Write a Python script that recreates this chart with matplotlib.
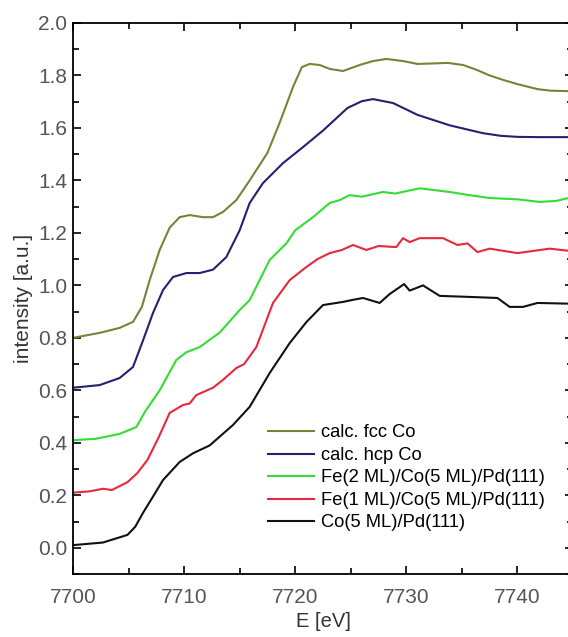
import numpy as np
import matplotlib
matplotlib.use('Agg')
import matplotlib.pyplot as plt
from matplotlib.ticker import MultipleLocator, FormatStrFormatter

plt.rcParams['font.family'] = ['Liberation Sans', 'DejaVu Sans']

# calc. fcc Co
e_fcc = [7700, 7702.4, 7704.2, 7705.4, 7706.2, 7706.9, 7707.8, 7708.7, 7709.6, 7710.5, 7711.7,
         7712.6, 7713.5, 7714.7, 7715.9, 7717.5, 7718.6, 7719.8, 7720.6, 7721.3, 7722.2,
         7723.1, 7724.3, 7725.8, 7727, 7728.2, 7729.7, 7731, 7732.5, 7733.7, 7735.1,
         7736.3, 7737.5, 7738.8, 7740, 7741.8, 7743, 7745]
i_fcc = [0.80, 0.819, 0.838, 0.861, 0.918, 1.02, 1.135, 1.22, 1.26, 1.268, 1.26,
         1.26, 1.28, 1.325, 1.40, 1.505, 1.62, 1.756, 1.832, 1.844, 1.84,
         1.825, 1.817, 1.84, 1.855, 1.863, 1.855, 1.844, 1.846, 1.848, 1.84,
         1.822, 1.80, 1.782, 1.767, 1.748, 1.742, 1.74]

# calc. hcp Co
e_hcp = [7700, 7702.4, 7704.2, 7705.4, 7706.3, 7707.2, 7708.1, 7709, 7710.2, 7711.4, 7712.6,
         7713.8, 7715, 7715.9, 7717.1, 7718.9, 7720.7, 7722.5, 7724.7, 7726, 7727, 7728.8,
         7731, 7733.9, 7736.9, 7738.5, 7740, 7742, 7745]
i_hcp = [0.61, 0.62, 0.647, 0.689, 0.79, 0.895, 0.982, 1.032, 1.047, 1.047, 1.06,
         1.108, 1.21, 1.314, 1.39, 1.466, 1.527, 1.59, 1.676, 1.702, 1.71, 1.695,
         1.65, 1.61, 1.58, 1.57, 1.566, 1.565, 1.565]

# Fe(2 ML)/Co(5 ML)/Pd(111)
e_fe2 = [7700, 7702, 7704.2, 7705.7, 7706.5, 7707.8, 7709.3, 7710.2, 7711.4, 7713.2, 7715,
         7715.9, 7717.7, 7719.2, 7720, 7721.6, 7723.1, 7724, 7724.9, 7726, 7727.9, 7729,
         7731.2, 7733.9, 7735.5, 7737.5, 7740, 7742, 7743.5, 7745]
i_fe2 = [0.41, 0.415, 0.434, 0.46, 0.52, 0.60, 0.716, 0.745, 0.765, 0.82, 0.906,
         0.944, 1.097, 1.16, 1.21, 1.26, 1.314, 1.325, 1.344, 1.338, 1.356, 1.35,
         1.37, 1.356, 1.345, 1.333, 1.328, 1.318, 1.322, 1.337]

# Fe(1 ML)/Co(5 ML)/Pd(111)
e_fe1 = [7700, 7701.5, 7702.7, 7703.5, 7704.9, 7705.8, 7706.7, 7707.7, 7708.7, 7709.9, 7710.5,
         7711.1, 7712.6, 7713.5, 7714.7, 7715.4, 7716.5, 7718, 7719.5, 7721, 7722, 7723.1,
         7724.2, 7725.2, 7726.4, 7727.5, 7729.1, 7729.7, 7730.3, 7731.2, 7733.3, 7734.6,
         7735.5, 7736.4, 7737.5, 7740, 7742.9, 7745]
i_fe1 = [0.21, 0.215, 0.225, 0.22, 0.25, 0.285, 0.335, 0.42, 0.514, 0.544, 0.55,
         0.582, 0.61, 0.64, 0.685, 0.70, 0.765, 0.933, 1.02, 1.07, 1.10, 1.123,
         1.135, 1.154, 1.135, 1.15, 1.146, 1.18, 1.165, 1.18, 1.18, 1.154,
         1.16, 1.127, 1.14, 1.123, 1.14, 1.13]

# Co(5 ML)/Pd(111)
e_co = [7700, 7702.7, 7704.9, 7705.6, 7706.3, 7707.2, 7708.1, 7709.6, 7710.8, 7712.3, 7714.4,
        7715.9, 7717.7, 7719.5, 7721, 7722.5, 7724.3, 7725.2, 7726.1, 7727.6, 7728.5,
        7729.8, 7730.3, 7731.5, 7733, 7735.7, 7738.2, 7739.3, 7740.5, 7741.8, 7745]
i_co = [0.01, 0.02, 0.049, 0.08, 0.133, 0.195, 0.258, 0.327, 0.36, 0.39, 0.468,
        0.537, 0.666, 0.78, 0.86, 0.925, 0.937, 0.945, 0.952, 0.933, 0.967,
        1.005, 0.98, 1.0, 0.96, 0.956, 0.952, 0.918, 0.918, 0.933, 0.93]

fig = plt.figure(figsize=(5.68, 6.37), dpi=100)
ax = fig.add_axes([73/568, 63/637, 500/568, 551/637])

ax.plot(e_fcc, i_fcc, color='#7f7f3a', lw=1.5, label='calc. fcc Co')
ax.plot(e_hcp, i_hcp, color='#22226e', lw=1.5, label='calc. hcp Co')
ax.plot(e_fe2, i_fe2, color='#33dd33', lw=1.5, label='Fe(2 ML)/Co(5 ML)/Pd(111)')
ax.plot(e_fe1, i_fe1, color='#e8283c', lw=1.5, label='Fe(1 ML)/Co(5 ML)/Pd(111)')
ax.plot(e_co, i_co, color='#111111', lw=1.5, label='Co(5 ML)/Pd(111)')

ax.set_xlim(7700, 7745)
ax.set_ylim(-0.1, 2.0)
ax.xaxis.set_major_locator(MultipleLocator(10))
ax.xaxis.set_minor_locator(MultipleLocator(5))
ax.yaxis.set_major_locator(MultipleLocator(0.2))
ax.yaxis.set_minor_locator(MultipleLocator(0.1))
ax.yaxis.set_major_formatter(FormatStrFormatter('%.1f'))
ax.tick_params(which='both', direction='in', top=True, right=True, labelsize=15,
               labelcolor='#555555', width=1.2)
ax.tick_params(which='major', length=6)
ax.tick_params(which='minor', length=4)
ax.tick_params(axis='x', which='major', pad=10)
ax.tick_params(axis='y', which='major', pad=4)
for s in ax.spines.values():
    s.set_linewidth(1.3)

ax.set_xlabel('E [eV]', fontsize=14.5, color='#333333', labelpad=4)
ax.set_ylabel('intensity [a.u.]', fontsize=15, color='#333333', labelpad=4)

ax.legend(loc='upper left', bbox_to_anchor=(0.372, 0.288), frameon=False, fontsize=13.2,
          handlelength=2.5, handletextpad=0.4, labelspacing=0.3, borderpad=0)

fig.savefig('out.png', dpi=100)
